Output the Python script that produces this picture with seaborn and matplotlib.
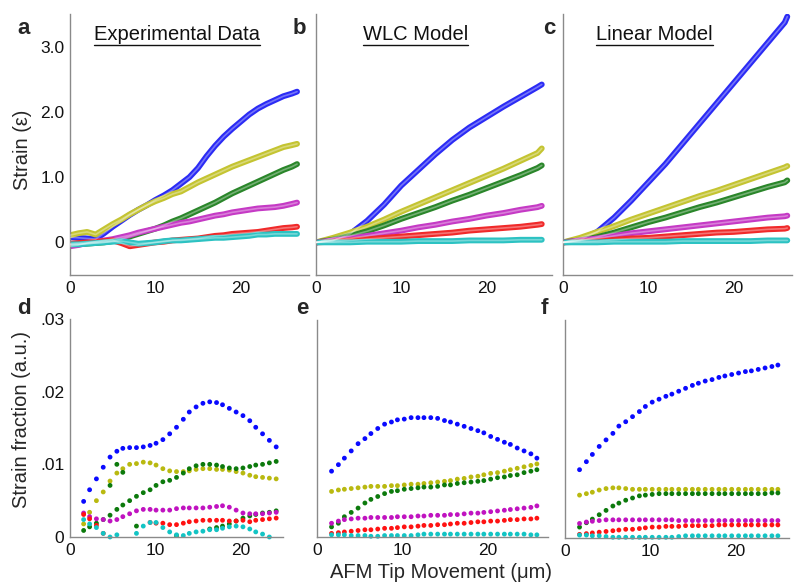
import matplotlib
matplotlib.use("Agg")
import matplotlib.pyplot as plt
import numpy as np
import pandas as pd
import seaborn as sns
from matplotlib.lines import Line2D

# %% Data
series_order = ["blue", "yellow", "green", "magenta", "red", "cyan"]

# panel a - experimental strain
exp_x = [0, 1, 2, 3, 4, 5, 6, 7, 8, 9, 10, 11, 12, 13, 14, 15, 16, 17, 18, 19,
         20, 21, 22, 23, 24, 25, 26, 26.6]
exp_blue = [0.08, 0.07, 0.06, 0.05, 0.14, 0.24, 0.33, 0.42, 0.50, 0.57, 0.65, 0.72, 0.80, 0.90,
            1.00, 1.14, 1.32, 1.48, 1.62, 1.74, 1.85, 1.96, 2.05, 2.12, 2.18, 2.24, 2.28, 2.31]
exp_yellow = [0.11, 0.14, 0.16, 0.12, 0.20, 0.28, 0.35, 0.43, 0.50, 0.57, 0.63, 0.68, 0.74, 0.78,
              0.85, 0.92, 0.98, 1.04, 1.10, 1.16, 1.21, 1.26, 1.31, 1.36, 1.41, 1.46, 1.49, 1.51]
exp_green = [-0.04, -0.03, -0.02, -0.01, 0.0, 0.02, 0.05, 0.09, 0.13, 0.17, 0.21, 0.26, 0.32, 0.37,
             0.43, 0.49, 0.55, 0.61, 0.68, 0.75, 0.81, 0.87, 0.93, 0.99, 1.05, 1.11, 1.16, 1.20]
exp_magenta = [-0.06, -0.04, -0.01, 0.01, 0.03, 0.05, 0.08, 0.11, 0.15, 0.18, 0.21, 0.24, 0.27, 0.30,
               0.32, 0.35, 0.38, 0.41, 0.43, 0.46, 0.48, 0.50, 0.52, 0.53, 0.54, 0.56, 0.59, 0.61]
exp_red = [-0.02, -0.01, 0.0, 0.01, 0.02, 0.03, -0.01, -0.06, -0.04, -0.02, 0.0, 0.01, 0.03, 0.04,
           0.05, 0.06, 0.08, 0.10, 0.11, 0.13, 0.14, 0.15, 0.16, 0.18, 0.20, 0.22, 0.23, 0.24]
exp_cyan = [-0.03, -0.03, -0.02, -0.01, 0.0, 0.01, 0.02, 0.0, -0.02, -0.01, 0.0, 0.02, 0.03, 0.03,
            0.04, 0.05, 0.06, 0.07, 0.07, 0.08, 0.09, 0.10, 0.12, 0.12, 0.13, 0.13, 0.13, 0.13]

# panel b - WLC model
wlc_x = [0, 2, 4, 6, 8, 10, 12, 14, 16, 18, 20, 22, 24, 26, 26.5]
wlc_blue = [0, 0.03, 0.13, 0.33, 0.58, 0.87, 1.11, 1.35, 1.57, 1.76, 1.92, 2.08, 2.23, 2.38, 2.42]
wlc_yellow = [0, 0.07, 0.15, 0.24, 0.35, 0.47, 0.58, 0.69, 0.80, 0.91, 1.02, 1.13, 1.25, 1.37, 1.44]
wlc_green = [0, 0.04, 0.10, 0.17, 0.26, 0.36, 0.45, 0.54, 0.64, 0.73, 0.83, 0.93, 1.03, 1.14, 1.18]
wlc_magenta = [0, 0.03, 0.06, 0.10, 0.14, 0.18, 0.23, 0.27, 0.32, 0.36, 0.41, 0.45, 0.50, 0.54, 0.56]
wlc_red = [0, 0.01, 0.03, 0.05, 0.07, 0.09, 0.11, 0.13, 0.15, 0.18, 0.20, 0.22, 0.24, 0.27, 0.28]
wlc_cyan = [0, 0, 0, 0.01, 0.01, 0.01, 0.02, 0.02, 0.02, 0.03, 0.03, 0.03, 0.04, 0.04, 0.04]

# panel c - linear model
lin_x = [0, 2, 4, 6, 8, 10, 12, 14, 16, 18, 20, 22, 24, 26, 26.3]
lin_blue = [0, 0.04, 0.16, 0.38, 0.64, 0.92, 1.20, 1.51, 1.82, 2.13, 2.44, 2.75, 3.06, 3.37, 3.46]
lin_yellow = [0, 0.07, 0.16, 0.25, 0.35, 0.44, 0.53, 0.62, 0.71, 0.79, 0.88, 0.97, 1.06, 1.15, 1.17]
lin_green = [0, 0.03, 0.08, 0.15, 0.23, 0.31, 0.38, 0.46, 0.54, 0.61, 0.69, 0.77, 0.85, 0.92, 0.95]
lin_magenta = [0, 0.03, 0.06, 0.10, 0.14, 0.17, 0.20, 0.23, 0.26, 0.29, 0.32, 0.35, 0.38, 0.40, 0.41]
lin_red = [0, 0.01, 0.02, 0.04, 0.06, 0.07, 0.09, 0.11, 0.13, 0.15, 0.16, 0.18, 0.20, 0.21, 0.22]
lin_cyan = [0, 0, 0, 0.01, 0.01, 0.01, 0.01, 0.02, 0.02, 0.02, 0.02, 0.02, 0.03, 0.03, 0.03]

# panel d - experimental strain fraction (x 1e-3)
fd_x = [1.6, 2.3, 3.1, 3.9, 4.7, 5.5, 6.2, 7.0, 7.8, 8.6, 9.4, 10.1, 10.9, 11.7, 12.5,
        13.3, 14.0, 14.8, 15.6, 16.4, 17.2, 17.9, 18.7, 19.5, 20.3, 21.1, 21.8, 22.6, 23.4, 24.2]
fd_blue = [4.9, 6.5, 8.0, 9.6, 11.0, 11.8, 12.2, 12.3, 12.3, 12.4, 12.6, 12.9, 13.4, 14.2, 15.1,
           16.2, 17.2, 17.9, 18.4, 18.6, 18.5, 18.2, 17.7, 17.2, 16.7, 16.0, 15.1, 14.2, 13.3, 12.4]
fd_yellow = [1.8, 3.4, 5.0, 6.2, 7.7, 8.8, 9.4, 10.0, 10.1, 10.3, 10.2, 9.9, 9.4, 9.1, 9.0,
             9.0, 9.1, 9.3, 9.4, 9.4, 9.3, 9.3, 9.2, 9.0, 8.8, 8.5, 8.3, 8.2, 8.1, 8.0]
fd_green = [0.9, 1.4, 1.9, 2.4, 3.0, 3.8, 4.4, 5.0, 5.6, 6.1, 6.5, 7.1, 7.6, 7.8, 8.2,
            8.8, 9.4, 9.8, 10.0, 10.0, 9.9, 9.7, 9.5, 9.4, 9.5, 9.7, 9.9, 10.0, 10.2, 10.4]
fd_green_low = [np.nan, np.nan, np.nan, np.nan, 7.1, 10.0, 8.9, np.nan, 1.5, np.nan, np.nan, np.nan, np.nan, np.nan, 0.2,
                np.nan, np.nan, np.nan, np.nan, 1.1, 1.3, 1.5, 1.8, 2.2, 2.6, 2.9, 3.1, 3.3, 3.4, 3.6]
fd_magenta = [3.3, 2.8, 2.5, 2.4, 2.2, 2.4, 2.8, 3.2, 3.6, 3.8, 3.8, 3.7, 3.7, 3.7, 3.9,
              4.0, 4.0, 4.0, 4.0, 4.1, 4.2, 4.3, 4.1, 3.7, 3.3, 3.2, 3.2, 3.2, 3.3, 3.4]
fd_red = [3.1, 2.5, 1.6, 0.5, np.nan, np.nan, np.nan, np.nan, np.nan, np.nan, 2.0, 1.9, 1.9, 1.7, 1.7,
          1.9, 2.1, 2.2, 2.3, 2.3, 2.3, 2.3, 2.2, 2.2, 2.3, 2.1, 2.3, 2.4, 2.5, 2.6]
fd_cyan = [2.4, 1.8, 1.3, 0.5, 0.0, 0.3, np.nan, np.nan, 0.5, 1.5, 2.0, 2.0, 1.3, 0.7, 0.3,
           0.2, 0.5, 0.7, 0.8, 1.0, 1.0, 1.2, 1.4, 1.5, 1.4, 1.1, 0.7, 0.4, 0.0, np.nan]

# panel e - WLC strain fraction (x 1e-3)
fe_x = [1.7, 2.5, 3.2, 4.0, 4.8, 5.6, 6.3, 7.1, 7.9, 8.7, 9.4, 10.2, 11.0, 11.8, 12.5, 13.3,
        14.1, 14.9, 15.6, 16.4, 17.2, 18.0, 18.8, 19.5, 20.3, 21.1, 21.9, 22.6, 23.4, 24.2, 25.0, 25.7]
fe_blue = [9.1, 10.0, 10.9, 11.9, 12.9, 13.6, 14.3, 15.0, 15.6, 15.9, 16.2, 16.3, 16.5, 16.5, 16.5, 16.5,
           16.4, 16.1, 15.9, 15.6, 15.3, 15.0, 14.7, 14.4, 13.9, 13.5, 13.1, 12.8, 12.3, 11.9, 11.5, 10.9]
fe_yellow = [6.3, 6.5, 6.6, 6.7, 6.8, 6.9, 7.0, 7.0, 7.0, 7.1, 7.1, 7.2, 7.3, 7.3, 7.4, 7.5,
             7.6, 7.7, 7.8, 8.0, 8.1, 8.3, 8.4, 8.6, 8.8, 8.9, 9.1, 9.3, 9.5, 9.7, 9.9, 10.1]
fe_green = [1.4, 1.9, 2.8, 3.4, 4.0, 4.7, 5.2, 5.6, 6.0, 6.3, 6.4, 6.6, 6.7, 6.8, 6.9, 6.9,
            7.0, 7.2, 7.2, 7.4, 7.5, 7.6, 7.7, 7.8, 8.0, 8.2, 8.3, 8.5, 8.6, 8.9, 9.1, 9.3]
fe_magenta = [1.9, 2.2, 2.4, 2.5, 2.6, 2.6, 2.7, 2.7, 2.7, 2.7, 2.8, 2.8, 2.8, 2.9, 2.9, 3.0,
              3.0, 3.0, 3.1, 3.1, 3.2, 3.3, 3.3, 3.4, 3.5, 3.6, 3.7, 3.8, 3.9, 4.0, 4.1, 4.3]
fe_red = [0.5, 0.6, 0.7, 0.8, 0.9, 1.0, 1.0, 1.1, 1.2, 1.2, 1.3, 1.4, 1.4, 1.5, 1.6, 1.6,
          1.7, 1.7, 1.8, 1.9, 1.9, 2.0, 2.1, 2.1, 2.2, 2.2, 2.3, 2.4, 2.4, 2.5, 2.5, 2.6]
fe_cyan = [0.3, 0.3, 0.3, 0.2, 0.2, 0.2, 0.1, 0.1, 0.2, 0.2, 0.2, 0.2, 0.2, 0.3, 0.4, 0.4,
           0.4, 0.4, 0.4, 0.4, 0.4, 0.4, 0.4, 0.4, 0.4, 0.4, 0.4, 0.4, 0.4, 0.4, 0.3, 0.3]

# panel f - linear strain fraction (x 1e-3)
ff_x = [1.7, 2.5, 3.2, 4.0, 4.8, 5.6, 6.3, 7.1, 7.9, 8.7, 9.4, 10.2, 11.0, 11.8, 12.5, 13.3,
        14.1, 14.9, 15.6, 16.4, 17.2, 18.0, 18.7, 19.5, 20.3, 21.1, 21.8, 22.6, 23.4, 24.2, 24.9]
ff_blue = [9.4, 10.5, 11.5, 12.6, 13.5, 14.4, 15.4, 16.0, 16.7, 17.4, 18.1, 18.7, 19.1, 19.5, 19.8, 20.2,
           20.6, 21.0, 21.3, 21.6, 21.8, 22.1, 22.3, 22.5, 22.7, 22.9, 23.0, 23.2, 23.4, 23.6, 23.8]
ff_yellow = [5.9, 6.1, 6.3, 6.6, 6.8, 6.9, 6.9, 6.8, 6.7, 6.7, 6.7, 6.7, 6.7, 6.7, 6.7, 6.7,
             6.7, 6.7, 6.7, 6.7, 6.7, 6.7, 6.7, 6.7, 6.7, 6.7, 6.7, 6.7, 6.7, 6.7, 6.7]
ff_green = [1.5, 2.1, 2.6, 3.2, 3.8, 4.4, 4.8, 5.2, 5.5, 5.8, 5.9, 6.0, 6.1, 6.1, 6.1, 6.1,
            6.1, 6.1, 6.1, 6.1, 6.1, 6.1, 6.1, 6.1, 6.1, 6.1, 6.1, 6.1, 6.1, 6.2, 6.2]
ff_magenta = [2.0, 2.2, 2.3, 2.4, 2.5, 2.5, 2.5, 2.5, 2.5, 2.5, 2.5, 2.5, 2.5, 2.5, 2.5, 2.4,
              2.4, 2.4, 2.4, 2.4, 2.4, 2.4, 2.4, 2.4, 2.4, 2.4, 2.4, 2.4, 2.4, 2.4, 2.4]
ff_red = [0.5, 0.6, 0.7, 0.8, 0.9, 1.0, 1.1, 1.2, 1.2, 1.3, 1.4, 1.5, 1.5, 1.6, 1.6, 1.6,
          1.7, 1.7, 1.7, 1.7, 1.7, 1.8, 1.8, 1.8, 1.8, 1.8, 1.8, 1.8, 1.8, 1.8, 1.8]
ff_cyan = [0.4, 0.4, 0.3, 0.3, 0.2, 0.1, 0.1, 0.1, 0.1, 0.1, 0.1, 0.1, 0.1, 0.1, 0.1, 0.2,
           0.3, 0.3, 0.3, 0.3, 0.3, 0.3, 0.3, 0.3, 0.3, 0.3, 0.3, 0.3, 0.3, 0.3, 0.3]

line_colors = {"blue": "#2b2bf5", "yellow": "#c4c431", "green": "#2a862a",
               "magenta": "#c53ac5", "red": "#f02a2a", "cyan": "#2cc2c2"}
dot_colors = {"blue": "#0a0aff", "yellow": "#b9b910", "green": "#0c7a0c", "green2": "#0c7a0c",
              "magenta": "#c013c0", "red": "#ff1212", "cyan": "#12c4c4"}


def long_table(x, values, names=series_order):
    frames = []
    for name, y in zip(names, values):
        frames.append(pd.DataFrame({"x": x, "y": y, "series": name}))
    return pd.concat(frames, ignore_index=True)


dot_order = ["blue", "yellow", "green", "green2", "magenta", "red", "cyan"]

strain_panels = [
    ("a", long_table(exp_x, [exp_blue, exp_yellow, exp_green, exp_magenta, exp_red, exp_cyan]), 28.0),
    ("b", long_table(wlc_x, [wlc_blue, wlc_yellow, wlc_green, wlc_magenta, wlc_red, wlc_cyan]), 27.7),
    ("c", long_table(lin_x, [lin_blue, lin_yellow, lin_green, lin_magenta, lin_red, lin_cyan]), 26.85),
]
fraction_panels = [
    ("d", long_table(fd_x, [fd_blue, fd_yellow, fd_green, fd_green_low, fd_magenta, fd_red, fd_cyan], dot_order), 25.0),
    ("e", long_table(fe_x, [fe_blue, fe_yellow, fe_green, fe_magenta, fe_red, fe_cyan]), 27.0),
    ("f", long_table(ff_x, [ff_blue, ff_yellow, ff_green, ff_magenta, ff_red, ff_cyan]), 26.2),
]
for _, df, _ in fraction_panels:
    df["y"] = df["y"] / 1000.0

# %% Figure
sns.set_style("white")
plt.rcParams["font.family"] = ["Liberation Sans", "DejaVu Sans"]

W, H = 794, 586
fig = plt.figure(figsize=(W / 100, H / 100), dpi=100)


def px_axes(left, top, right, bottom):
    return fig.add_axes([left / W, 1 - bottom / H, (right - left) / W, (bottom - top) / H])


def style_axes(ax):
    for side in ["top", "right"]:
        ax.spines[side].set_visible(False)
    for side in ["left", "bottom"]:
        ax.spines[side].set_color("#8a8a8a")
        ax.spines[side].set_linewidth(1.0)
    ax.tick_params(direction="in", length=3.5, width=1.0, color="#8a8a8a",
                   labelsize=12.5, labelcolor="#111111", pad=4)
    ax.set_xlabel("")
    ax.set_ylabel("")
    legend = ax.get_legend()
    if legend is not None:
        legend.remove()


top_boxes = [(70, 14, 309, 275), (316, 14, 552, 275), (563, 14, 792, 275)]
bottom_boxes = [(70, 319, 283, 537), (317, 320, 548, 537), (565, 320, 789, 538)]

x_ticks = [0, 5, 10, 15, 20, 25]
x_labels = ["0", "", "10", "", "20", ""]

for (letter, df, xmax), box in zip(strain_panels, top_boxes):
    ax = px_axes(*box)
    sns.lineplot(data=df, x="x", y="y", hue="series", hue_order=series_order,
                 palette=line_colors, linewidth=4.2, sort=False, ax=ax)
    for name in series_order:
        part = df[df["series"] == name]
        ax.plot(part["x"], part["y"], color="white", alpha=0.35, linewidth=1.2, zorder=3)
    ax.set_xlim(0, xmax)
    ax.set_ylim(-0.5, 3.5)
    ax.set_xticks(x_ticks)
    ax.set_xticklabels(x_labels)
    ax.set_yticks([0, 0.5, 1.0, 1.5, 2.0, 2.5, 3.0])
    if letter == "a":
        ax.set_yticklabels(["0", "", "1.0", "", "2.0", "", "3.0"])
    else:
        ax.set_yticklabels([])
    style_axes(ax)

for (letter, df, xmax), box in zip(fraction_panels, bottom_boxes):
    ax = px_axes(*box)
    order = dot_order if letter == "d" else series_order
    sns.scatterplot(data=df, x="x", y="y", hue="series", hue_order=order,
                    palette=dot_colors, s=12, edgecolor="none", ax=ax, clip_on=False)
    ax.set_xlim(0, xmax)
    ax.set_ylim(0, 0.03)
    ax.set_xticks(x_ticks)
    ax.set_xticklabels(x_labels)
    ax.set_yticks([0, 0.005, 0.01, 0.015, 0.02, 0.025, 0.03])
    if letter == "d":
        ax.set_yticklabels(["0", "", ".01", "", ".02", "", ".03"])
    else:
        ax.set_yticklabels([])
    style_axes(ax)

# panel letters
letters = [("a", 24, 28), ("b", 299, 28), ("c", 549, 28),
           ("d", 24, 309), ("e", 302, 309), ("f", 544, 309)]
for text, x, y in letters:
    fig.text(x / W, 1 - y / H, text, fontsize=16, fontweight="bold", ha="center", va="center")

# underlined titles
titles = [("Experimental Data", 176.7), ("WLC Model", 415.5), ("Linear Model", 654.5)]
fig.canvas.draw()
renderer = fig.canvas.get_renderer()
for text, x in titles:
    t = fig.text(x / W, 1 - 34 / H, text, fontsize=14.5, ha="center", va="center", color="#111111")
    bb = t.get_window_extent(renderer=renderer)
    y_line = (bb.y0 - 1) / H
    fig.add_artist(Line2D([bb.x0 / W, bb.x1 / W], [y_line, y_line], color="#111111", linewidth=1.0))

fig.text(22 / W, 1 - 150 / H, "Strain (ε)", rotation=90, fontsize=14.5, ha="center", va="center")
fig.text(22 / W, 1 - 420 / H, "Strain fraction (a.u.)", rotation=90, fontsize=14.5, ha="center", va="center")
fig.text(441 / W, 1 - 572 / H, "AFM Tip Movement (μm)", fontsize=14.5, ha="center", va="center")

fig.savefig("out.png", dpi=100)
plt.close(fig)
